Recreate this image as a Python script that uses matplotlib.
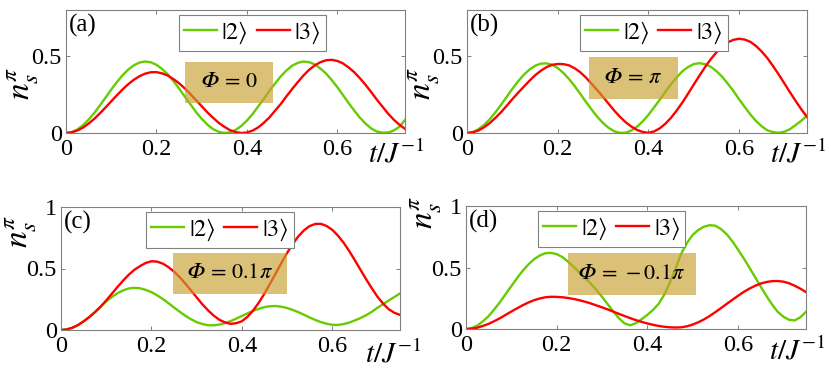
import matplotlib
matplotlib.use('Agg')
import matplotlib.pyplot as plt
from matplotlib.patches import Rectangle

plt.rcParams['font.family'] = ['Liberation Serif', 'DejaVu Serif']
plt.rcParams['mathtext.fontset'] = 'stix'

# ---------------- data ----------------
t = [0.0000, 0.0125, 0.0250, 0.0375, 0.0500, 0.0625, 0.0750, 0.0875, 0.1000, 0.1125,
     0.1250, 0.1375, 0.1500, 0.1625, 0.1750, 0.1875, 0.2000, 0.2125, 0.2250, 0.2375,
     0.2500, 0.2625, 0.2750, 0.2875, 0.3000, 0.3125, 0.3250, 0.3375, 0.3500, 0.3625,
     0.3750, 0.3875, 0.4000, 0.4125, 0.4250, 0.4375, 0.4500, 0.4625, 0.4750, 0.4875,
     0.5000, 0.5125, 0.5250, 0.5375, 0.5500, 0.5625, 0.5750, 0.5875, 0.6000, 0.6125,
     0.6250, 0.6375, 0.6500, 0.6625, 0.6750, 0.6875, 0.7000, 0.7125, 0.7250, 0.7375,
     0.7500]

green_a = [0, .006, .023, .050, .087, .130, .179, .230, .282, .331,
           .375, .412, .440, .458, .465, .460, .444, .417, .382, .338,
           .290, .238, .188, .137, .093, .055, .026, .008, .000, .004,
           .020, .045, .080, .122, .172, .221, .274, .322, .368, .406,
           .437, .456, .465, .461, .447, .420, .388, .346, .299, .248,
           .196, .147, .100, .062, .030, .010, .002, .003, .016, .040,
           .085]
red_a = [0, .004, .016, .035, .061, .092, .128, .166, .206, .245,
         .283, .317, .346, .369, .386, .395, .396, .388, .374, .351,
         .324, .291, .254, .214, .175, .135, .100, .067, .041, .019,
         .006, .000, .003, .015, .036, .066, .101, .145, .188, .238,
         .285, .330, .373, .410, .439, .460, .473, .476, .469, .453,
         .427, .396, .357, .314, .267, .218, .172, .126, .087, .054,
         .027]

green_b = [0, .006, .024, .052, .089, .134, .183, .235, .287, .335,
           .378, .412, .437, .451, .453, .444, .423, .391, .351, .305,
           .254, .202, .152, .105, .065, .033, .011, .001, .002, .016,
           .041, .075, .117, .166, .215, .268, .317, .362, .401, .429,
           .448, .454, .448, .431, .403, .367, .322, .274, .220, .170,
           .121, .078, .044, .017, .006, .001, .008, .025, .052, .080,
           .112]
red_b = [0, .004, .016, .037, .064, .098, .135, .177, .220, .261,
         .300, .339, .375, .404, .428, .443, .449, .448, .440, .421,
         .395, .360, .320, .278, .235, .190, .145, .105, .070, .042,
         .020, .007, .001, .010, .030, .060, .099, .146, .198, .255,
         .314, .372, .428, .479, .524, .561, .589, .606, .613, .608,
         .593, .566, .530, .487, .436, .381, .323, .265, .208, .154,
         .105]

green_c = [0, .005, .018, .040, .070, .105, .145, .188, .232, .268,
           .299, .322, .338, .343, .339, .326, .308, .282, .253, .219,
           .183, .149, .116, .088, .064, .049, .039, .038, .044, .056,
           .072, .092, .114, .135, .156, .172, .186, .193, .195, .189,
           .179, .163, .145, .124, .102, .082, .064, .051, .042, .041,
           .048, .060, .078, .097, .120, .148, .180, .210, .240, .268,
           .297]
red_c = [0, .005, .018, .040, .070, .105, .145, .190, .240, .295,
         .350, .402, .450, .490, .520, .545, .559, .556, .540, .512,
         .475, .430, .378, .322, .266, .210, .161, .118, .084, .062,
         .050, .055, .071, .107, .158, .222, .295, .377, .460, .545,
         .625, .698, .761, .810, .845, .862, .863, .846, .815, .768,
         .711, .643, .568, .490, .413, .340, .271, .215, .169, .140,
         .123]

green_d = [0, .007, .028, .063, .105, .160, .219, .284, .349, .413,
           .473, .524, .567, .597, .616, .619, .609, .585, .548, .505,
           .460, .415, .370, .318, .262, .202, .142, .087, .045, .030,
           .048, .080, .115, .155, .205, .280, .380, .495, .615, .700,
           .765, .805, .832, .844, .840, .812, .771, .713, .646, .575,
           .500, .423, .345, .270, .200, .140, .100, .075, .070, .095,
           .140]
red_d = [0, .003, .011, .025, .042, .064, .088, .115, .142, .168,
         .193, .215, .234, .248, .258, .262, .261, .258, .252, .244,
         .234, .222, .208, .192, .176, .159, .141, .123, .105, .088,
         .072, .058, .045, .034, .025, .018, .014, .012, .014, .022,
         .036, .055, .078, .106, .137, .170, .204, .237, .270, .301,
         .328, .351, .369, .382, .389, .390, .385, .372, .352, .328,
         .300]

panel_labels = ['(a)', '(b)', '(c)', '(d)']
phi_labels = ['$\U0001D6F7\\,=\\,0$', '$\U0001D6F7\\,=\\,\\pi$',
              '$\U0001D6F7\\,=\\,0.1\\pi$', '$\U0001D6F7\\,=\\,-0.1\\pi$']
legend_labels = [r'$|2\rangle$', r'$|3\rangle$']
xticks = [0, 0.2, 0.4, 0.6]
xticklabels = ['0', '0.2', '0.4', '0.6']
yticks_top = [0, 0.5]
yticklabels_top = ['0', '0.5']
yticks_bot = [0, 0.5, 1]
yticklabels_bot = ['0', '0.5', '1']

# ---------------- style / layout ----------------
GREEN = '#66CC00'
RED = '#FF0000'
GRAY = '#808080'
BOXC = '#C9A030'
W, H = 831, 370

fig = plt.figure(figsize=(W / 100, H / 100), dpi=100)

def px_axes(l, r, top, bot):
    return [l / W, 1 - bot / H, (r - l) / W, (bot - top) / H]

panels = [
    dict(rect=px_axes(66, 405, 10, 133), g=green_a, r=red_a, ymax=0.8,
         yt=yticks_top, ytl=yticklabels_top, leg_x=0.55,
         box=(0.351, 0.244, 0.260, 0.333), ylab=(-0.125, 0.405), xlab=(0.975, -0.175)),
    dict(rect=px_axes(467, 807, 10, 133), g=green_b, r=red_b, ymax=0.8,
         yt=yticks_top, ytl=yticklabels_top, leg_x=0.55,
         box=(0.359, 0.276, 0.261, 0.339), ylab=(-0.126, 0.405), xlab=(0.975, -0.175)),
    dict(rect=px_axes(61, 400, 207, 330), g=green_c, r=red_c, ymax=1.0,
         yt=yticks_bot, ytl=yticklabels_bot, leg_x=0.469,
         box=(0.331, 0.290, 0.337, 0.338), ylab=(-0.118, 0.80), xlab=(0.98, -0.2)),
    dict(rect=px_axes(466, 806, 206, 329), g=green_d, r=red_d, ymax=1.0,
         yt=yticks_bot, ytl=yticklabels_bot, leg_x=0.4285,
         box=(0.299, 0.276, 0.377, 0.339), ylab=(-0.118, 0.95), xlab=(0.975, -0.185)),
]

for i, p in enumerate(panels):
    ax = fig.add_axes(p['rect'])
    ax.plot(t, p['g'], color=GREEN, lw=1.7, label=legend_labels[0])
    ax.plot(t, p['r'], color=RED, lw=1.7, label=legend_labels[1])
    ax.set_xlim(0, 0.75)
    ax.set_ylim(0, p['ymax'])
    ax.set_xticks(xticks)
    ax.set_xticklabels(xticklabels)
    ax.set_yticks(p['yt'])
    ax.set_yticklabels(p['ytl'])
    ax.tick_params(direction='in', length=3, width=0.7, top=True, right=True,
                   color=GRAY, labelcolor='black', labelsize=17.5)
    ax.tick_params(axis='x', pad=4)
    ax.tick_params(axis='y', pad=3)
    for s in ax.spines.values():
        s.set_color(GRAY)
        s.set_linewidth(0.8)

    leg = ax.legend(loc='upper center', bbox_to_anchor=(p['leg_x'], 0.96), ncol=2,
                    frameon=True, fancybox=False, edgecolor=GRAY, framealpha=1,
                    fontsize=17.5, handlelength=1.35, handletextpad=0.2,
                    columnspacing=0.35, borderpad=0.2, borderaxespad=0)
    leg.get_frame().set_linewidth(0.8)

    bx, by, bw, bh = p['box']
    ax.add_patch(Rectangle((bx, by), bw, bh, transform=ax.transAxes,
                           facecolor=BOXC, alpha=0.65, edgecolor='none', zorder=3))
    ax.text(bx + bw / 2, by + bh / 2, phi_labels[i], transform=ax.transAxes,
            ha='center', va='center', fontsize=16, zorder=4)

    ax.text(0.008, 0.965, panel_labels[i], transform=ax.transAxes, ha='left', va='top',
            fontsize=18)
    ax.text(p['ylab'][0], p['ylab'][1], r'$n_s^{\pi}$', transform=ax.transAxes,
            rotation=90, ha='center', va='center', fontsize=24)
    ax.text(p['xlab'][0], p['xlab'][1], r'$t/J^{-1}$', transform=ax.transAxes,
            ha='center', va='center', fontsize=21, clip_on=False)

fig.savefig('out.png', dpi=100)
